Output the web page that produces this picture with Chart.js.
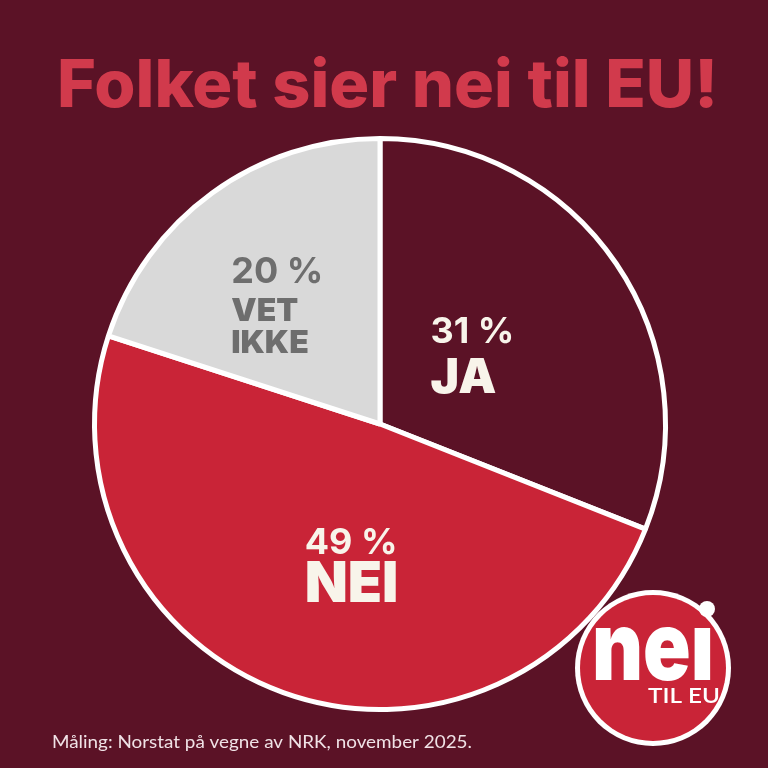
<!DOCTYPE html>
<html>
<head>
<meta charset="utf-8">
<script src="https://cdn.jsdelivr.net/npm/chart.js@4.4.1/dist/chart.umd.min.js"></script>
<style>
  html, body { margin: 0; padding: 0; background: #5b1226; }
  #wrap { width: 768px; height: 768px; position: relative; }
</style>
</head>
<body>
<div id="wrap"><canvas id="c" width="768" height="768"></canvas></div>
<script>
// ---- data ----
const categories = ['JA', 'NEI', 'VET IKKE'];
const values = [31, 49, 20];
const percentLabels = ['31 %', '49 %', '20 %'];
const nameLines = [['JA'], ['NEI'], ['VET', 'IKKE']];
const titleText = 'Folket sier nei til EU!';
const sourceText = 'Måling: Norstat på vegne av NRK, november 2025.';

// ---- styles ----
const BG = '#5b1226';
const sliceColors = ['#5b1226', '#c92437', '#d9d9d9'];
const labelColors = ['#f8f4ea', '#f8f4ea', '#6e6e6e'];
const HEAVY = 'Inter, Lato, sans-serif';
const LIGHT = 'Lato, "Open Sans", sans-serif';
// label layout per slice (relative to radius): left x, baselines
const labelLayout = [
  { dx: 0.177, pctY: -0.285, pctSize: 36, nameY: [-0.108], nameSize: 48 },
  { dx: -0.264, pctY: 0.455, pctSize: 36, nameY: [0.622], nameSize: 56 },
  { dx: -0.521, pctY: -0.493, pctSize: 36, nameY: [-0.361, -0.247], nameSize: 32 }
];

function fitText(ctx, text, x, y, targetW) {
  const w = ctx.measureText(text).width;
  ctx.save();
  ctx.translate(x, y);
  ctx.scale(targetW / w, 1);
  ctx.fillText(text, 0, 0);
  ctx.restore();
}

const decorPlugin = {
  id: 'decor',
  beforeDraw(chart) {
    const ctx = chart.ctx;
    ctx.save();
    ctx.fillStyle = BG;
    ctx.fillRect(0, 0, chart.width, chart.height);
    ctx.restore();
  },
  afterDraw(chart) {
    const ctx = chart.ctx;
    const arcs = chart.getDatasetMeta(0).data;
    const cx = arcs[0].x, cy = arcs[0].y, R = arcs[0].outerRadius;
    ctx.save();
    ctx.textBaseline = 'alphabetic';
    ctx.textAlign = 'left';
    // title
    ctx.fillStyle = '#d13a4c';
    ctx.font = '800 66px ' + HEAVY;
    fitText(ctx, titleText, 57, 107, 661);
    // slice labels
    arcs.forEach((arc, i) => {
      const L = labelLayout[i];
      ctx.fillStyle = labelColors[i];
      ctx.font = '700 ' + L.pctSize + 'px ' + HEAVY;
      ctx.fillText(percentLabels[i], cx + L.dx * R, cy + L.pctY * R);
      ctx.font = '900 ' + L.nameSize + 'px ' + HEAVY;
      nameLines[i].forEach((t, j) => {
        ctx.fillText(t, cx + L.dx * R, cy + L.nameY[j] * R);
      });
    });
    // source
    ctx.fillStyle = '#f0e2e6';
    ctx.font = '400 18px ' + LIGHT;
    fitText(ctx, sourceText, 52, 748, 420);
    // logo
    const lx = 653, ly = 668, lr = 78;
    ctx.beginPath();
    ctx.arc(lx, ly, lr, 0, Math.PI * 2);
    ctx.fillStyle = '#ffffff';
    ctx.fill();
    ctx.beginPath();
    ctx.arc(lx, ly, lr - 5, 0, Math.PI * 2);
    ctx.fillStyle = '#c92437';
    ctx.fill();
    ctx.fillStyle = '#ffffff';
    ctx.font = '900 96px ' + HEAVY;
    fitText(ctx, 'neı', 592, 680, 122);
    ctx.beginPath();
    ctx.arc(707, 609, 8, 0, Math.PI * 2);
    ctx.fill();
    ctx.font = '600 21px ' + LIGHT;
    fitText(ctx, 'TIL EU', 648, 703, 72);
    ctx.restore();
  }
};

new Chart(document.getElementById('c'), {
  type: 'pie',
  data: {
    labels: categories,
    datasets: [{
      data: values,
      backgroundColor: sliceColors,
      borderColor: '#ffffff',
      borderWidth: 5
    }]
  },
  options: {
    responsive: false,
    animation: false,
    layout: { padding: { left: 92, right: 100, top: 136, bottom: 56 } },
    plugins: {
      legend: { display: false },
      tooltip: { enabled: false },
      title: { display: false }
    }
  },
  plugins: [decorPlugin]
});
</script>
</body>
</html>
